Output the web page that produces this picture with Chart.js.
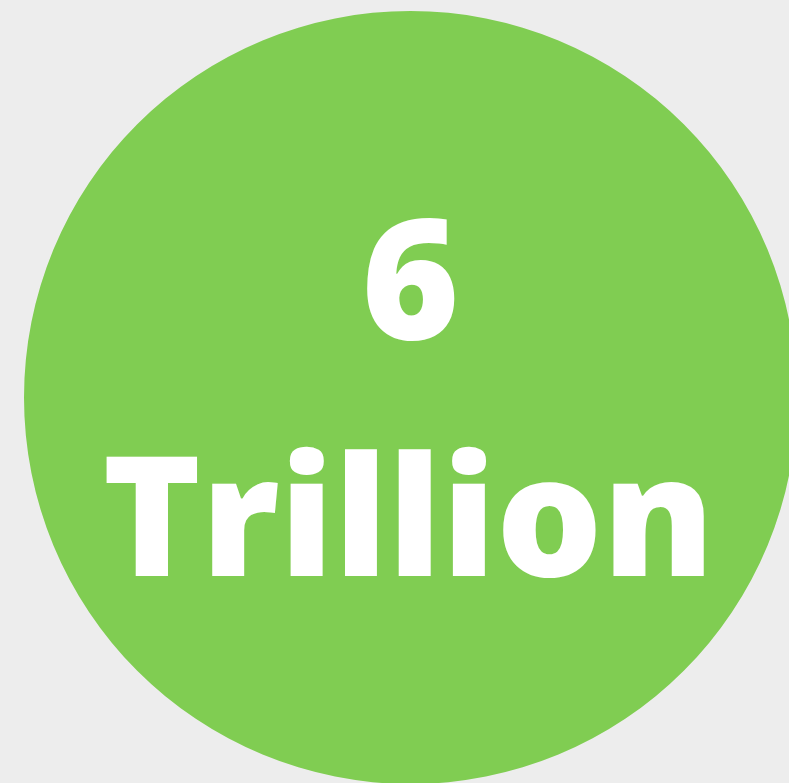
<!DOCTYPE html>
<html>
<head>
<meta charset="utf-8">
<script src="https://cdn.jsdelivr.net/npm/chart.js@4"></script>
<style>
  html, body { margin: 0; padding: 0; width: 789px; height: 783px; overflow: hidden; background: #ededed; }
  #wrap { position: absolute; left: 24px; top: 11px; width: 773px; height: 773px; }
</style>
</head>
<body>
<div id="wrap"><canvas id="c"></canvas></div>
<script>
const categories = ["Total"];
const values = [6];
const labelLines = ["6", "Trillion"];

const centerText = {
  id: 'centerText',
  afterDraw(chart) {
    const ctx = chart.ctx;
    const a = chart.chartArea;
    const cx = (a.left + a.right) / 2;
    const cy = (a.top + a.bottom) / 2;
    ctx.save();
    ctx.fillStyle = '#ffffff';
    ctx.textAlign = 'center';
    ctx.textBaseline = 'alphabetic';
    ctx.font = '800 167px "Open Sans"';
    ctx.fillText(labelLines[0], cx, cy - 59);
    ctx.fillText(labelLines[1], cx - 2, cy + 178);
    ctx.restore();
  }
};

new Chart(document.getElementById('c'), {
  type: 'pie',
  data: {
    labels: categories,
    datasets: [{ data: values, backgroundColor: ['#80cd52'], borderWidth: 0 }]
  },
  options: {
    responsive: true,
    maintainAspectRatio: false,
    animation: false,
    layout: { padding: 0 },
    plugins: { legend: { display: false }, tooltip: { enabled: false } }
  },
  plugins: [centerText]
});
</script>
</body>
</html>
